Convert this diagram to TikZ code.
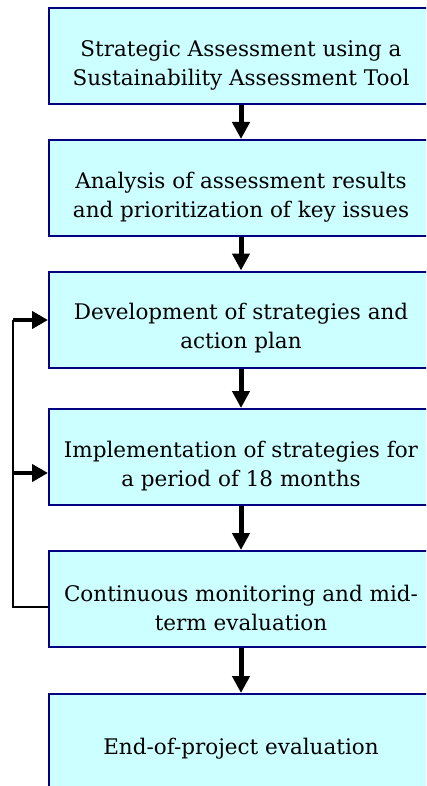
\documentclass[tikz,border=0pt]{standalone}
\usepackage{fontspec}
\setmainfont{DejaVu Serif}
\usetikzlibrary{arrows.meta}
\definecolor{boxfill}{HTML}{CCFFFF}
\definecolor{boxline}{HTML}{000080}
\tikzset{
  stepbox/.style={draw=boxline, line width=2pt, fill=boxfill, minimum width=384pt, minimum height=96pt,
    inner sep=0pt},
  boxtext/.style={align=center, inner sep=0pt, font=\fontsize{21.5}{29}\selectfont},
  flow/.style={line width=5pt, -{Triangle[width=17pt,length=17pt]}},
  fb/.style={line width=1.5pt},
  fbarrow/.style={line width=4pt, -{Triangle[width=17pt,length=16pt]}}
}
\begin{document}
\begin{tikzpicture}[x=1pt,y=-1pt]
\useasboundingbox (0,0) rectangle (426,786);
\clip (0,0) rectangle (426,786);
\node[stepbox] (b1) at (241,56) {};
\node[stepbox] (b2) at (241,188) {};
\node[stepbox] (b3) at (241,319.5) {};
\node[stepbox] (b4) at (241,457) {};
\node[stepbox] (b5) at (241,599) {};
\node[stepbox] (b6) at (241,742) {};
\node[boxtext] (t1) at ([yshift=-9pt]b1.center) {Strategic Assessment using a\\Sustainability Assessment Tool};
\node[boxtext] (t2) at ([yshift=-9pt]b2.center) {Analysis of assessment results\\and prioritization of key issues};
\node[boxtext] (t3) at ([yshift=-9pt]b3.center) {Development of strategies and\\action plan};
\node[boxtext] (t4) at ([yshift=-9pt]b4.center) {Implementation of strategies for\\a period of 18 months};
\node[boxtext] (t5) at ([yshift=-9pt]b5.center) {Continuous monitoring and mid-\\term evaluation};
\node[boxtext] (t6) at ([yshift=-7pt]b6.center) {End-of-project evaluation};
\draw[flow] (b1.south) -- (b2.north);
\draw[flow] (b2.south) -- (b3.north);
\draw[flow] (b3.south) -- (b4.north);
\draw[flow] (b4.south) -- (b5.north);
\draw[flow] (b5.south) -- (b6.north);
\coordinate (fbot) at (13,607);
\coordinate (ftop) at (13,320);
\coordinate (fmid) at (13,473);
\draw[fb] (b5.west |- fbot) -- (fbot) -- (ftop);
\draw[fbarrow] (ftop) -- (ftop -| b3.west);
\draw[fbarrow] (fmid) -- (fmid -| b4.west);
\end{tikzpicture}
\end{document}
